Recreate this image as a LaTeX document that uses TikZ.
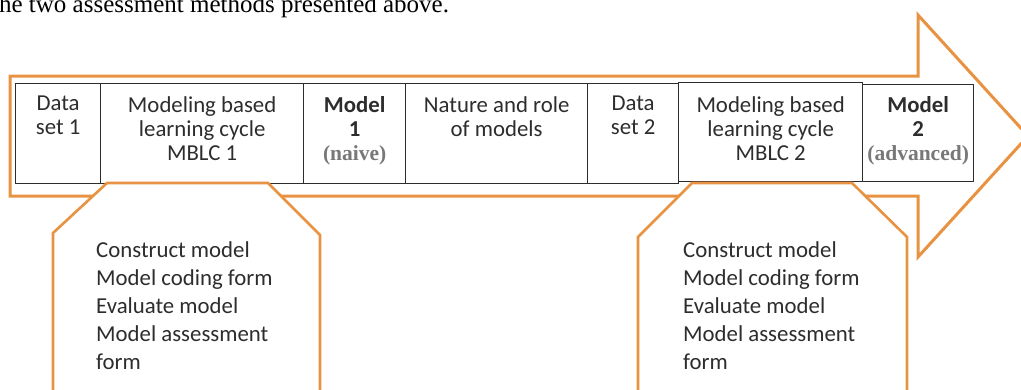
\documentclass[tikz,border=0pt]{standalone}
\usepackage{fontspec}
\setmainfont{Carlito}
\newfontfamily\timesfont{Liberation Serif}
\usetikzlibrary{positioning}

\definecolor{arroworange}{RGB}{232,146,66}
\definecolor{celltext}{RGB}{45,45,45}
\definecolor{notegrey}{RGB}{120,120,120}

\tikzset{
  cell/.style={draw=celltext, line width=1.3pt, rectangle, anchor=north west, inner sep=0pt, minimum height=100pt},
  celltxt/.style={font=\fontsize{22.8}{24}\selectfont, text=celltext, align=center, inner sep=0pt},
  callout/.style={draw=arroworange, line width=2.6pt, fill=white},
  calltxt/.style={font=\fontsize{22.8}{28}\selectfont, text=celltext, align=left, inner sep=0pt, anchor=north west}
}
\newcommand{\notetxt}[1]{{\color{notegrey}\timesfont\bfseries\fontsize{21.5}{24}\selectfont #1}}

\begin{document}
\begin{tikzpicture}[x=1pt,y=-1pt]
\clip (0,0) rectangle (1021,389);
\node[font=\timesfont\fontsize{25}{30}\selectfont, text=black, anchor=base west, inner sep=0pt] (prevline) at (-8,12) {the two assessment methods presented above.};

% big arrow
\draw[arroworange, line width=3pt, fill=white] (10,76) -- (918,76) -- (918,15) -- (1028,136) -- (918,257) -- (918,196) -- (10,196) -- cycle;

% table cells
\node[cell, minimum width=85pt] (ds1) at (15,83) {};
\node[cell, minimum width=203pt] (mblc1) at (100,83) {};
\node[cell, minimum width=102pt] (m1) at (303,83) {};
\node[cell, minimum width=182pt] (nat) at (405,83) {};
\node[cell, minimum width=91pt] (ds2) at (587,83) {};
\node[cell, minimum width=184pt, minimum height=99pt] (mblc2) at (678,82) {};
\node[cell, minimum width=111pt, minimum height=97pt] (m2) at (862,84) {};

\node[celltxt, below=13pt of ds1.north] (ds1t) {Data\\set 1};
\node[celltxt, below=13pt of mblc1.north] (mblc1t) {Modeling based\\learning cycle\\MBLC 1};
\node[celltxt, below=13pt of m1.north] (m1t) {\bfseries Model\\\bfseries 1\\\notetxt{(naive)}};
\node[celltxt, below=13pt of nat.north] (natt) {Nature and role\\of models};
\node[celltxt, below=13pt of ds2.north] (ds2t) {Data\\set 2};
\node[celltxt, below=14pt of mblc2.north] (mblc2t) {Modeling based\\learning cycle\\MBLC 2};
\node[celltxt, below=12pt of m2.north] (m2t) {\bfseries Model\\\bfseries 2\\\notetxt{(advanced)}};

% callouts
\draw[callout] (107,183) -- (268,183) -- (320,235) -- (320,400) -- (53,400) -- (53,233) -- cycle;
\draw[callout] (692,183) -- (852,183) -- (907,237) -- (907,400) -- (638,400) -- (638,237) -- cycle;

\node[calltxt] (call1t) at (96,241) {Construct model\\Model coding form\\Evaluate model\\Model assessment\\form};
\node[calltxt] (call2t) at (683,241) {Construct model\\Model coding form\\Evaluate model\\Model assessment\\form};

\end{tikzpicture}
\end{document}
